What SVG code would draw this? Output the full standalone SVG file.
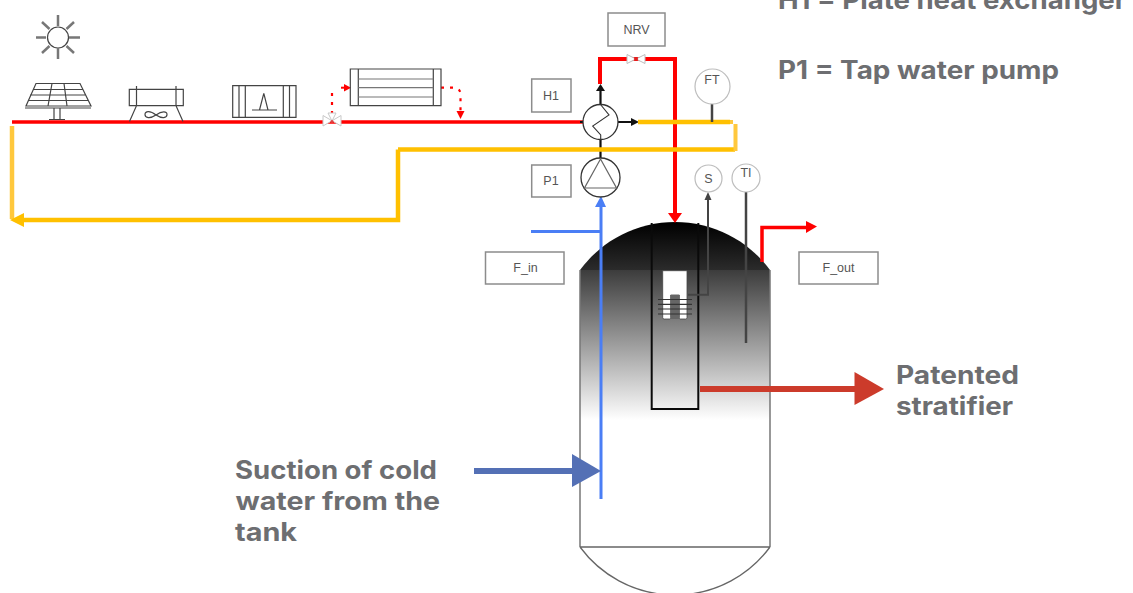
<svg xmlns="http://www.w3.org/2000/svg" width="1133" height="593" viewBox="0 0 1133 593">
<style>
.bold{font-family:Inter,"Liberation Sans",sans-serif;font-weight:700;font-size:25px;fill:#6d6e71}
.lab{font-family:"Liberation Sans",Arial,sans-serif;font-size:12.5px;fill:#555;text-anchor:middle}
.box{fill:#fff;stroke:#8c8c8c;stroke-width:1.5}
.inst{fill:#fff;stroke:#bdbdbd;stroke-width:1.2}
.sym{fill:none;stroke:#444;stroke-width:1.2}
.symg{fill:none;stroke:#777;stroke-width:1.2}
.red{fill:none;stroke:#ff0000;stroke-width:3.5}
.yel{fill:none;stroke:#ffc000;stroke-width:4.5}
.blk{fill:none;stroke:#111;stroke-width:2.2}
.dot{fill:none;stroke:#ff0000;stroke-width:2.2;stroke-dasharray:3 6}
.gry{fill:none;stroke:#444;stroke-width:2.5}
</style>
<defs>
<linearGradient id="domeG" x1="0" y1="222" x2="0" y2="270" gradientUnits="userSpaceOnUse"><stop offset="0" stop-color="#000"/><stop offset="1" stop-color="#2b2b2b"/></linearGradient>
<linearGradient id="bodyG" x1="0" y1="270" x2="0" y2="420" gradientUnits="userSpaceOnUse"><stop offset="0" stop-color="#3c3c3c"/><stop offset="1" stop-color="#fff"/></linearGradient>
</defs>

<g id="tank">
<path d="M580 270H770V547H580Z" fill="url(#bodyG)"/>
<path d="M580 270A118 118 0 0 1 770 270Z" fill="url(#domeG)"/>
<path d="M580 270V547M770 270V547" fill="none" stroke="#777" stroke-width="1.5"/>
<path d="M580 547H770M580 547A118 118 0 0 0 770 547" fill="none" stroke="#666" stroke-width="1.3"/>
</g>
<g id="stratifier">
<path d="M651.7 223V409H698.3V223" fill="none" stroke="#0a0a0a" stroke-width="2"/>
<path d="M662.7 270.7H687V317.5Q687 319 685.5 319H680.5Q679.3 319 679.3 317.5V295H670.7V317.5Q670.7 319 669.5 319H664.2Q662.7 319 662.7 317.5Z" fill="#fff" stroke="#444" stroke-width="0.8"/>
<path d="M670.7 295H679.3V319H670.7Z" fill="#666"/>
<path d="M658 299.5H692M658 304.3H692M658 309H692M658 314H692" fill="none" stroke="#333" stroke-width="1.2"/>
</g>

<g id="connectors">
<path class="red" d="M12 122H583"/>
<path class="red" style="stroke-width:4" d="M600 84V59H675V214"/>
<path d="M668 213H682L675 223Z" fill="#ff0000"/>
<path class="red" d="M762 262V227.5H806"/>
<path d="M806 221V233L817 226.5Z" fill="#ff0000"/>
<path class="blk" d="M600.5 104V91M618 122H631M600.5 140V158M583 122H580"/>
<path d="M596 91H605L600.5 84Z" fill="#111"/><path d="M631 118V126L639 122Z" fill="#111"/>
<path class="yel" d="M638 122H730M398 149.5H735M398 149.5V220H24"/>
<path d="M730 122H733M735.5 124V151" fill="none" stroke="#ffc83d" stroke-width="4"/>
<path d="M12 126V219" fill="none" stroke="#ffc83d" stroke-width="4.5"/>
<path d="M24 213V227L10 220Z" fill="#ffc000"/>
<path d="M601 207V499M531 231.5H601" fill="none" stroke="#4a7ef5" stroke-width="3"/>
<path d="M595 207H606L601 196Z" fill="#4a7ef5"/>
<path d="M474 471H573" fill="none" stroke="#5470b5" stroke-width="6"/>
<path d="M572 454V487L601 471Z" fill="#5470b5"/>
<path d="M700 389H856" fill="none" stroke="#cc3b2b" stroke-width="6"/>
<path d="M854.5 372V405L884 389Z" fill="#cc3b2b"/>
<path class="dot" d="M332 114V89"/>
<path d="M341 87.7H345" fill="none" stroke="#ff0000" stroke-width="2"/>
<path d="M344 84V91.5L351 87.7Z" fill="#ff0000"/>
<path class="dot" d="M441 87.7H454Q460.500 88 460.500 95V111"/>
<path d="M456.500 111H464.500L460.500 119Z" fill="#ff0000"/>
<path class="gry" d="M712 104V122"/>
<path class="gry" d="M688 294.700H708V200" style="stroke-width:2"/>
<path d="M704.500 200H711.500L708 192Z" fill="#444"/>
<path class="gry" d="M746 192V343"/>
</g>

<g id="sun">
<circle cx="58" cy="37.500" r="10.500" class="sym"/>
<path d="M58 15V26M58 48V59M36 37.500H46M69 37.500H80M42 22L49.500 29M66.500 46L74 53M74 22L66.500 29M49.500 46L42 53" fill="none" stroke="#777" stroke-width="2.500"/>
</g>
<g id="solar-panel">
<path class="sym" d="M36 83.500H80L91 106H26ZM33 89.500H83M30 95H86M28 100.500H88M52 83.500L48 106M64 83.500L67 106M25 108H91"/>
<path class="sym" d="M54 108V119M60 108V119M49 119.500H65"/>
</g>
<g id="cooler">
<path class="sym" d="M129.300 89.300H183.300V105.700H129.300ZM136.500 86V105.700L129.500 121.500M176 86V105.700L183 121.500"/>
<path class="sym" d="M156 115C150 110 145 111 145 114.500C145 118 150 119 156 115C162 111 167 111 167 114.500C167 118 162 119 156 115Z"/>
</g>
<g id="heater">
<path class="sym" d="M232.700 85.700H296V117.300H232.700ZM239 85.700V117.300M245.300 85.700V117.300M283.300 85.700V117.300M289.500 85.700V117.300"/>
<path class="sym" d="M259.500 110L263.800 93.300L268 110M252 110H277"/>
</g>
<g id="radiator">
<path class="sym" d="M350.300 69H441V105.700H350.300ZM358.300 69V105.700M433.300 69V105.700"/>
<path class="symg" d="M358.300 79H433.300M358.300 87.700H433.300M358.300 97H433.300"/>
</g>
<g id="valve-bypass">
<path d="M323 115.500L341 126V115.500L323 126Z" fill="#fff" stroke="#c8c8c8" stroke-width="1"/>
<path d="M328 113H336L332 121Z" fill="#fff" stroke="#c8c8c8" stroke-width="1"/>
<circle cx="332" cy="121.500" r="1.500" fill="#e04040"/>
</g>
<g id="valve-nrv">
<path d="M627 54.500L645 63.500V54.500L627 63.500Z" fill="#fff" stroke="#bdbdbd" stroke-width="1"/>
<circle cx="636" cy="59" r="2" fill="#e02020"/>
</g>
<g id="h1-symbol">
<circle cx="600.500" cy="122" r="17.500" fill="#fff" stroke="#333" stroke-width="1.300"/>
<path d="M600.500 104.500L609 115L592.700 126L600.700 135V139.500" fill="none" stroke="#333" stroke-width="1.100"/>
</g>
<g id="p1-symbol">
<circle cx="600.500" cy="177.500" r="19.500" fill="#fff" stroke="#333" stroke-width="1.300"/>
<path d="M600.500 159L584.500 188H616.500Z" fill="none" stroke="#666" stroke-width="1.200"/>
</g>
<g id="nrv-label"><rect x="608" y="13" width="57" height="33" class="box"/><text x="636.500" y="34" class="lab">NRV</text></g>
<g id="h1-label"><rect x="531.700" y="79" width="39.300" height="33" class="box"/><text x="551" y="99.500" class="lab">H1</text></g>
<g id="p1-label"><rect x="531.700" y="165" width="39.300" height="32" class="box"/><text x="551" y="185" class="lab">P1</text></g>
<g id="f-in"><rect x="485.500" y="252" width="78.500" height="32" class="box"/><text x="525.500" y="272" class="lab">F_in</text></g>
<g id="f-out"><rect x="799" y="252" width="79" height="32" class="box"/><text x="838.500" y="272" class="lab">F_out</text></g>
<g id="ft"><circle cx="712.500" cy="86.500" r="17.500" class="inst"/><text x="712" y="84" class="lab">FT</text></g>
<g id="s"><circle cx="708.500" cy="178.500" r="13.500" class="inst"/><text x="708.500" y="183" class="lab">S</text></g>
<g id="ti"><circle cx="746" cy="178" r="14" class="inst"/><text x="746" y="176.500" class="lab">TI</text></g>

<g id="captions">
<text class="bold" x="778" y="9" textLength="348" lengthAdjust="spacingAndGlyphs">H1 = Plate heat exchanger</text>
<text class="bold" x="778" y="79" textLength="281" lengthAdjust="spacingAndGlyphs">P1 = Tap water pump</text>
<text class="bold" x="896" y="384" textLength="123" lengthAdjust="spacingAndGlyphs">Patented</text>
<text class="bold" x="896" y="414.500" textLength="117" lengthAdjust="spacingAndGlyphs">stratifier</text>
<text class="bold" x="235" y="479" textLength="202" lengthAdjust="spacingAndGlyphs">Suction of cold</text>
<text class="bold" x="235.500" y="510" textLength="204.500" lengthAdjust="spacingAndGlyphs">water from the</text>
<text class="bold" x="235" y="541" textLength="62" lengthAdjust="spacingAndGlyphs">tank</text>
</g>
</svg>
